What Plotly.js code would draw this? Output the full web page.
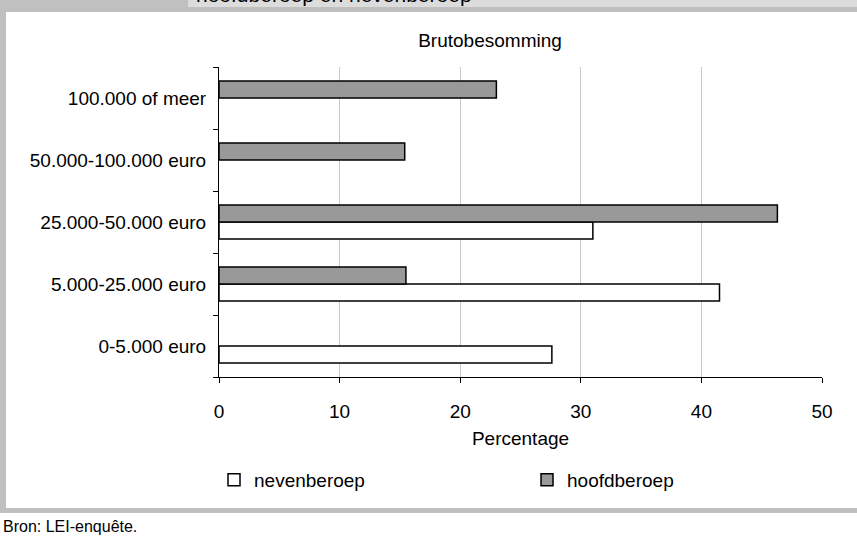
<!DOCTYPE html>
<html>
<head>
<meta charset="utf-8">
<script src="https://cdn.plot.ly/plotly-3.0.1.min.js"></script>
<style>
html,body{margin:0;padding:0;background:#fff;}
#chart{width:857px;height:536px;}
</style>
</head>
<body>
<div id="chart"></div>
<script>
// Data
const categories = ['0-5.000 euro', '5.000-25.000 euro', '25.000-50.000 euro', '50.000-100.000 euro', '100.000 of meer'];
const nevenberoep = [27.6, 41.5, 31.0, null, null];
const hoofdberoep = [null, 15.5, 46.3, 15.4, 23.0];
const seriesNames = ['nevenberoep', 'hoofdberoep'];
const xTicks = [0, 10, 20, 30, 40, 50];

// Layout geometry (pixels)
const W = 857, H = 536;
const PL = 219, PR = 822, PT = 67, PB = 377;
const px = x => (x - PL) / (PR - PL);
const py = y => (PB - y) / (PB - PT);

const FONT = 'Liberation Sans, Arial, sans-serif';
const FS = 19;

const traces = [
  {
    type: 'bar', orientation: 'h', name: seriesNames[0],
    y: categories, x: nevenberoep,
    marker: {color: '#ffffff', line: {color: '#000000', width: 1.5}},
    legend: 'legend', hoverinfo: 'x+y'
  },
  {
    type: 'bar', orientation: 'h', name: seriesNames[1],
    y: categories, x: hoofdberoep,
    marker: {color: '#999999', line: {color: '#000000', width: 1.5}},
    legend: 'legend2', hoverinfo: 'x+y'
  }
];

const rect = (x0, y0, x1, y1, color) => ({
  type: 'rect', xref: 'paper', yref: 'paper', layer: 'below',
  x0: px(x0), x1: px(x1), y0: py(y1), y1: py(y0),
  fillcolor: color, line: {width: 0}
});

const layout = {
  width: W, height: H,
  paper_bgcolor: '#ffffff', plot_bgcolor: '#ffffff',
  margin: {l: PL, r: W - PR, t: PT, b: H - PB, pad: 0},
  font: {family: FONT, size: FS, color: '#000000'},
  barmode: 'group', bargap: 0.45, bargroupgap: 0,
  title: {
    text: 'Brutobesomming', font: {family: FONT, size: FS, color: '#000'},
    xref: 'paper', x: px(490), xanchor: 'center',
    yref: 'container', y: 1 - 40 / H, yanchor: 'middle'
  },
  xaxis: {
    range: [0, 50], tickvals: xTicks, ticktext: xTicks.map(String),
    showgrid: true, gridcolor: '#c8c8c8', gridwidth: 1,
    showline: true, linecolor: '#000', linewidth: 1,
    ticks: 'outside', ticklen: 5, tickcolor: '#000', zeroline: false,
    tickfont: {family: FONT, size: FS}, ticklabelstandoff: 12,
    title: {text: 'Percentage', font: {family: FONT, size: FS}, standoff: 10},
    fixedrange: true
  },
  yaxis: {
    type: 'category', categoryorder: 'array', categoryarray: categories,
    showline: true, linecolor: '#000', linewidth: 1,
    ticks: 'outside', ticklen: 5, tickcolor: '#000', tickson: 'boundaries',
    showgrid: false, zeroline: false,
    tickfont: {family: FONT, size: FS}, ticklabelstandoff: 8,
    fixedrange: true
  },
  showlegend: true,
  legend: {
    orientation: 'h', x: px(214), xanchor: 'left', y: py(480), yanchor: 'middle',
    font: {family: FONT, size: FS}, bgcolor: 'rgba(0,0,0,0)', itemwidth: 30
  },
  legend2: {
    orientation: 'h', x: px(527), xanchor: 'left', y: py(480), yanchor: 'middle',
    font: {family: FONT, size: FS}, bgcolor: 'rgba(0,0,0,0)', itemwidth: 30
  },
  shapes: [
    rect(0, 0, W, 12, '#c0c0c0'),
    rect(188, 0, W, 7, '#dcdcdc'),
    rect(0, 0, 6, 513, '#c0c0c0'),
    rect(0, 508, W, 513, '#c0c0c0')
  ],
  annotations: [
    {
      text: 'hoofdberoep en nevenberoep', showarrow: false,
      xref: 'paper', yref: 'paper', x: px(194), xanchor: 'left',
      y: py(8), yanchor: 'bottom', font: {family: FONT, size: 21}
    },
    {
      text: 'Bron: LEI-enquête.', showarrow: false,
      xref: 'paper', yref: 'paper', x: px(1), xanchor: 'left',
      y: py(526), yanchor: 'middle', font: {family: FONT, size: 16}
    }
  ]
};

Plotly.newPlot('chart', traces, layout, {displayModeBar: false, staticPlot: true});
</script>
</body>
</html>
